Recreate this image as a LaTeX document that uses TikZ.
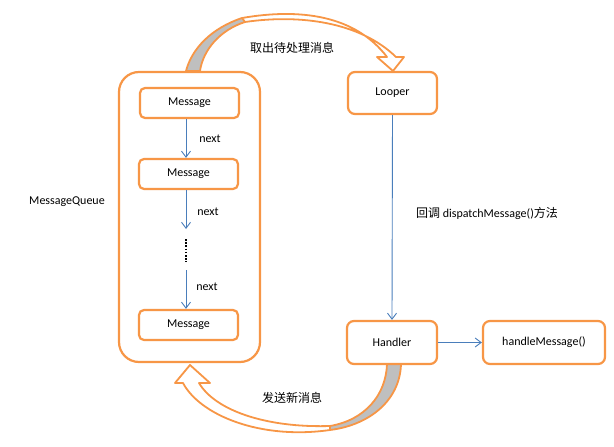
\documentclass[tikz,border=0pt]{standalone}
\usepackage{fontspec}
\setmainfont{Carlito}
\newfontfamily\cjk{Noto Sans CJK SC}
\usetikzlibrary{arrows.meta}
\definecolor{orng}{HTML}{F79646}
\definecolor{bluel}{HTML}{4A7EBB}
\definecolor{shadegray}{HTML}{BFBFBF}
\begin{document}
\begin{tikzpicture}[x=1pt,y=-1pt,font=\fontsize{12}{14}\selectfont,
  box/.style={draw=orng,line width=2.2pt,rounded corners=5pt,fill=white,inner sep=0pt},
  link/.style={draw=bluel,line width=0.9pt,-{Straight Barb[length=6pt,width=9pt]}},
  lbl/.style={inner sep=0pt},
  bandline/.style={draw=orng,line width=1.8pt,line join=round}]
\useasboundingbox (0,0) rectangle (614,447);

% ---- top curved arrow (queue -> looper)
\def\TopBand{(186,71) .. controls (192,48) and (212,28) .. (242,18)
  .. controls (300,8) and (355,15) .. (387,57) -- (377,57) -- (393,71) -- (404,57) -- (396,57)
  .. controls (360,22) and (300,14) .. (245,22)
  .. controls (220,30) and (203,50) .. (200,71) -- cycle}
\fill[white] \TopBand;
\fill[shadegray] (186,71) .. controls (192,48) and (212,28) .. (242,18) -- (245,22)
  .. controls (220,30) and (203,50) .. (200,71) -- cycle;
\draw[bandline] \TopBand;
\draw[bandline] (242,18) -- (245,22);

% ---- bottom curved arrow (handler -> queue)
\def\BotBand{(401,364) .. controls (400,400) and (370,425) .. (330,430)
  .. controls (260,440) and (200,415) .. (183,383) -- (175,383) -- (190,365) -- (210,383) -- (199,383)
  .. controls (215,410) and (265,428) .. (330,426)
  .. controls (365,420) and (386,395) .. (387,364) -- cycle}
\fill[white] \BotBand;
\fill[shadegray] (401,364) .. controls (400,400) and (370,425) .. (330,430) -- (330,426)
  .. controls (365,420) and (386,395) .. (387,364) -- cycle;
\draw[bandline] \BotBand;
\draw[bandline] (330,430) -- (330,426);

% ---- boxes
\node[box,rounded corners=20pt,minimum width=141pt,minimum height=290pt] (queue) at (189.5,217) {};
\node[box,minimum width=99pt,minimum height=30pt] (m1) at (189.5,103) {Message};
\node[box,minimum width=99pt,minimum height=30pt] (m2) at (188.5,174) {Message};
\node[box,minimum width=99pt,minimum height=30pt] (m3) at (188.5,325) {Message};
\node[box,rounded corners=7pt,minimum width=89pt,minimum height=42pt] (looper) at (392.5,93) {Looper};
\node[box,rounded corners=7pt,minimum width=90pt,minimum height=43pt] (handler) at (392,342.5) {Handler};
\node[box,rounded corners=7pt,minimum width=122pt,minimum height=43pt] (hm) at (544,342.5) {handleMessage()};

% ---- connectors
\coordinate (ax) at (186,0);
\coordinate (d1) at (186,229);
\coordinate (d2) at (186,270);
\draw[link] (m1.south -| ax) -- (m2.north -| ax);
\draw[link] (m2.south -| ax) -- (d1);
\draw[link] (d2) -- (m3.north -| ax);
\draw[line width=2pt,dash pattern=on 1.6pt off 1.6pt] (186,239) -- (186,262);
\draw[link] (looper.south) -- (handler.north);
\draw[link] (handler.east) -- (hm.west);

% ---- labels
\node[lbl] (n1) at (210,139) {next};
\node[lbl] (n2) at (208,212) {next};
\node[lbl] (n3) at (207,287) {next};
\node[lbl] (mq) at (67,202) {MessageQueue};
\node[lbl] (t1) at (292,48) {\cjk 取出待处理消息};
\node[lbl] (t2) at (292,398) {\cjk 发送新消息};
\node[lbl] (t3) at (487,213) {{\cjk 回调} dispatchMessage(){\cjk 方法}};
\end{tikzpicture}
\end{document}
